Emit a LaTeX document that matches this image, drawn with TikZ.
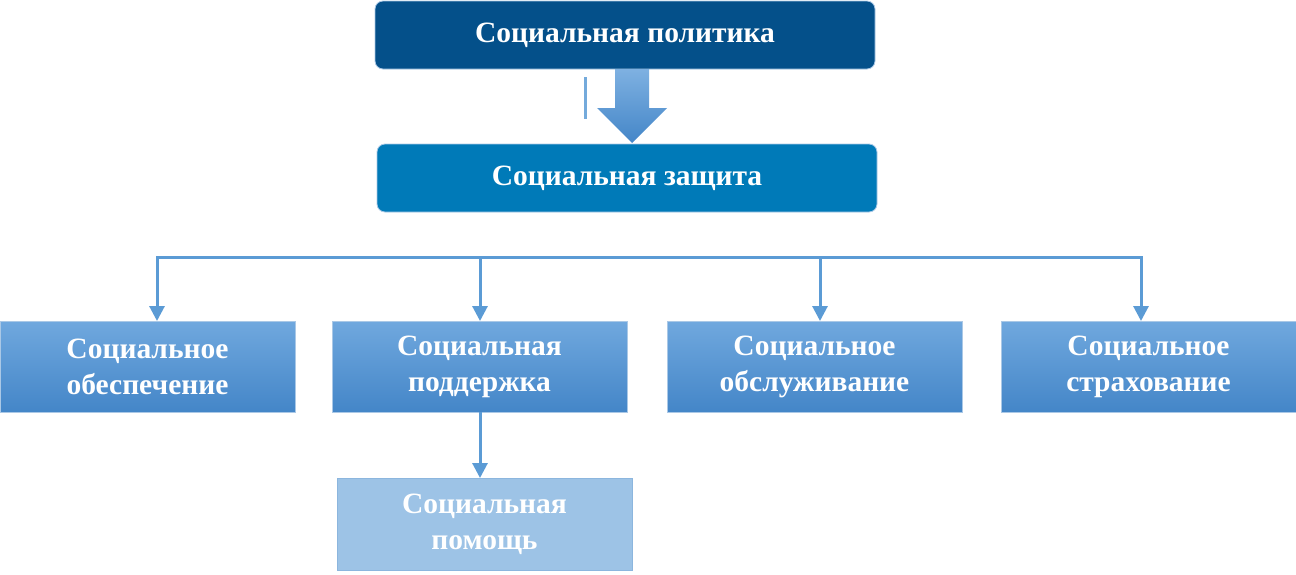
\documentclass[tikz,border=0pt]{standalone}
\usepackage{fontspec}
\setmainfont{Liberation Serif}
\usetikzlibrary{arrows.meta}
\definecolor{navy}{RGB}{4,80,138}
\definecolor{midblue}{RGB}{0,122,184}
\definecolor{gtop}{RGB}{112,168,222}
\definecolor{gbot}{RGB}{68,134,200}
\definecolor{pale}{RGB}{157,195,230}
\definecolor{paleedge}{RGB}{140,182,222}
\definecolor{conn}{RGB}{91,155,213}
\definecolor{edge}{RGB}{170,200,230}
\tikzset{
  txt/.style={text=white,font=\fontsize{29.5}{36}\selectfont\bfseries,align=center,inner sep=0pt,outer sep=0pt},
  topbox/.style={txt,rounded corners=8pt,fill=navy,draw=edge,line width=0.8pt,minimum width=500pt,minimum height=68pt},
  protbox/.style={txt,rounded corners=8pt,fill=midblue,draw=edge,line width=0.8pt,minimum width=500pt,minimum height=68pt},
  kindbox/.style={txt,top color=gtop,bottom color=gbot,draw=edge,line width=0.8pt,minimum width=295pt,minimum height=91pt},
  helpbox/.style={txt,fill=pale,draw=paleedge,line width=0.8pt,minimum width=295pt,minimum height=92pt},
  connline/.style={draw=conn,line width=3pt},
  connarrow/.style={connline,-{Triangle[length=15pt,width=15pt]}},
}
\begin{document}
\begin{tikzpicture}[x=1pt,y=-1pt]
\useasboundingbox (0,0) rectangle (1296,574);
\node[topbox] (pol) at (625,35) {Социальная политика};
\node[protbox] (prot) at (627,178) {Социальная защита};
\node[kindbox] (b1) at (147.5,366.5) {Социальное\\обеспечение};
\node[kindbox] (b2) at (479.5,366.5) {Социальная\\поддержка};
\node[kindbox] (b3) at (814.5,366.5) {Социальное\\обслуживание};
\node[kindbox] (b4) at (1148.5,366.5) {Социальное\\страхование};
\node[helpbox] (b5) at (484.5,524) {Социальная\\помощь};
% block arrow
\shade[top color=gtop!90!white,bottom color=gbot]
  (615,69) -- (649,69) -- (649,108) -- (667,108) -- (632,143) -- (597,108) -- (615,108) -- cycle;
% stray bar
\draw[draw=conn!85!white,line width=3pt] (585.5,77) -- (585.5,119);
% bus
\coordinate (h1) at (157,257);
\coordinate (h2) at (480,257);
\coordinate (h3) at (820,257);
\coordinate (h4) at (1141,257);
\draw[connline,line cap=rect] (h1) -- (h4);
\draw[connarrow] (h1) -- (h1 |- b1.north);
\draw[connarrow] (h2) -- (h2 |- b2.north);
\draw[connarrow] (h3) -- (h3 |- b3.north);
\draw[connarrow] (h4) -- (h4 |- b4.north);
\draw[connarrow] (b2.south -| h2) -- (h2 |- b5.north);
\end{tikzpicture}
\end{document}
